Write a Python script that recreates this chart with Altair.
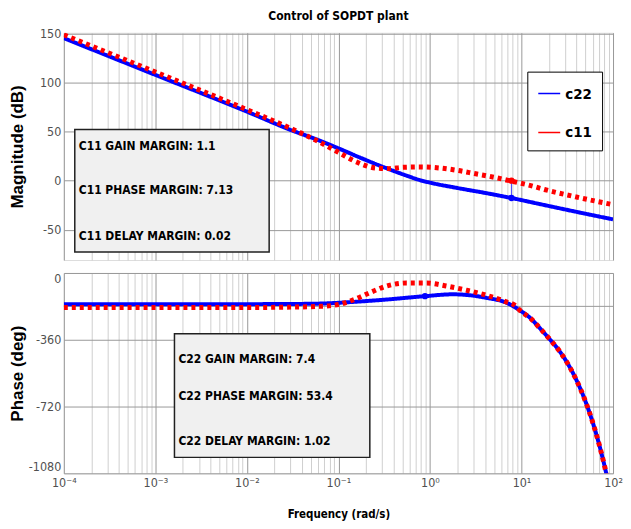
import altair as alt
import pandas as pd

# ---------------- data ----------------
series_names = ["c22", "c11"]
series_colors = ["#0000ff", "#ff0000"]

# Magnitude (dB)
mag_c22_w = [0.0001, 0.001, 0.01, 0.0316, 0.0562, 0.1, 0.178, 0.316, 0.562, 0.78, 1.0, 2.0, 4.0, 7.76, 17.0, 45.7, 100]
mag_c22_db = [145.5, 108, 70.5, 51, 42.5, 33, 23, 13.6, 5, 0.5, -2, -7.5, -12.5, -17.7, -24.5, -33, -39.5]

mag_c11_w = [0.0001, 0.001, 0.01, 0.0316, 0.0562, 0.1, 0.158, 0.251, 0.355, 0.501, 0.794, 1.26, 2.0, 3.16, 5.01, 7.76, 12.6, 17.8, 39.8, 100]
mag_c11_db = [149, 111, 72.5, 52.5, 41.5, 29, 19, 13, 12.3, 13.6, 14, 13, 10.5, 7, 3.5, -0.5, -5, -9, -16.7, -24.5]

# Phase (deg)
ph_c22_w = [0.0001, 0.01, 0.0316, 0.0637, 0.1455, 0.339, 0.883, 1.78, 2.72, 4.13, 6.81, 9.51, 12.6, 15.7,
            20.0, 25.9, 33.1, 39.8, 50.5, 59.6, 70.5, 79.8, 85.1]
ph_c22_deg = [-168, -168, -167, -165, -156, -143, -125, -115, -120, -134, -160, -200, -245, -295,
              -353, -420, -501, -577, -698, -801, -924, -1029, -1089]

ph_c11_w = [0.0001, 0.01, 0.0316, 0.0631, 0.1, 0.1455, 0.223, 0.339, 0.557, 0.92, 1.51, 2.51, 4.13, 6.81, 8.71,
            9.51, 12.6, 15.7, 20.0, 25.9, 33.1, 39.8, 50.5, 59.6, 70.5, 79.8, 85.1]
ph_c11_deg = [-186, -186, -184, -180, -170, -145, -105, -70, -54, -54, -70, -93, -120, -156, -179,
              -200, -245, -295, -353, -420, -501, -577, -698, -801, -924, -1029, -1089]

# margin markers
mk_mag_w = [7.76, 7.76]
mk_mag_db = [-17.7, 0]
mk_mag_series = ["c22", "c11"]
mk_ph_w = [0.883]
mk_ph_deg = [-125]
mk_ph_series = ["c22"]

# annotation texts
margin_names = ["GAIN MARGIN: ", "PHASE MARGIN:  ", "DELAY MARGIN:  "]
c11_values = ["1.1", "7.13", "0.02"]
c22_values = ["7.4", "53.4", "1.02"]

# axes
major_w = [0.0001, 0.001, 0.01, 0.1, 1, 10, 100]
major_labels = ["10⁻⁴", "10⁻³", "10⁻²", "10⁻¹", "10⁰", "10¹", "10²"]
minor_mult = [2, 3, 4, 5, 6, 7, 8, 9]
mag_ticks = [-50, 0, 50, 100, 150]
ph_ticks = [-1080, -720, -360, 0]

# ---------------- styling ----------------
FN = "DejaVu Sans Condensed, Liberation Sans Narrow, sans-serif"
FW = "Liberation Sans, Arial, sans-serif"
W = 551
H1 = 228
H2 = 201

minor_w = [d * m for d in major_w[:-1] for m in minor_mult]
grid_vals = major_w + minor_w
major_js = "[" + ",".join(repr(float(v)) for v in major_w) + "]"
grid_color = {"condition": {"test": f"indexof({major_js}, datum.value) >= 0", "value": "#999999"},
              "value": "#cfcfcf"}
label_expr = "".join(f"datum.value == {float(v)!r} ? '{l}' : " for v, l in zip(major_w, major_labels)) + "''"

xscale = alt.Scale(type="log", domain=[major_w[0], major_w[-1]], nice=False)

df_mag = pd.concat([
    pd.DataFrame({"w": mag_c22_w, "v": mag_c22_db, "series": "c22"}),
    pd.DataFrame({"w": mag_c11_w, "v": mag_c11_db, "series": "c11"}),
], ignore_index=True)
df_ph = pd.concat([
    pd.DataFrame({"w": ph_c22_w, "v": ph_c22_deg, "series": "c22"}),
    pd.DataFrame({"w": ph_c11_w, "v": ph_c11_deg, "series": "c11"}),
], ignore_index=True)

color_scale = alt.Scale(domain=series_names, range=series_colors)
dash_scale = alt.Scale(domain=series_names, range=[[1, 0], [4, 4]])
width_scale = alt.Scale(domain=series_names, range=[4, 5])


def y_axis(title, vals, flush):
    return alt.Axis(values=vals, labelExpr="'' + datum.value", ticks=False, domain=False, grid=True,
                    gridColor="#999999", gridWidth=1, labelFont=FN, labelFontSize=12.5, labelColor="#505050",
                    labelPadding=3, minExtent=32, maxExtent=32, labelFlush=flush,
                    title=title, titleFont=FW, titleFontSize=17, titleFontWeight="bold",
                    titleColor="black", titlePadding=5)


def x_axis(bottom):
    if bottom:
        return alt.Axis(values=grid_vals, labelExpr=label_expr, ticks=False, domain=False, grid=True,
                        gridColor=grid_color, gridWidth=1, labelFont=FN, labelFontSize=12.5,
                        labelColor="#505050", labelPadding=3, labelFlush=False, labelOverlap=False,
                        title="Frequency  (rad/s)", titleFont=FN, titleFontSize=11.5, titleFontWeight="bold",
                        titleColor="black", titlePadding=20)
    return alt.Axis(values=grid_vals, labels=False, ticks=False, domain=False, grid=True,
                    gridColor=grid_color, gridWidth=1, title=None)


def panel(df, domain, ytitle, yvals, bottom, legend, flush):
    yscale = alt.Scale(domain=domain, nice=False, zero=False)
    lines = alt.Chart(df).mark_line(clip=True, interpolate="monotone").encode(
        x=alt.X("w:Q", scale=xscale, axis=x_axis(bottom)),
        y=alt.Y("v:Q", scale=yscale, axis=y_axis(ytitle, yvals, flush)),
        color=alt.Color("series:N", scale=color_scale, legend=legend),
        strokeDash=alt.StrokeDash("series:N", scale=dash_scale, legend=None),
        strokeWidth=alt.StrokeWidth("series:N", scale=width_scale, legend=None),
    )
    return lines, yscale


legend = alt.Legend(orient="none", legendX=465, legendY=39, title=None, fillColor="white",
                    strokeColor="black", padding=10, symbolType="stroke", symbolSize=484,
                    symbolStrokeWidth=1.5, symbolDash=[1, 0], labelFont=FN, labelFontSize=15,
                    labelFontWeight="bold", labelColor="black", rowPadding=19, labelOffset=4,
                    cornerRadius=0)

one = pd.DataFrame({"k": [0]})


def text_box(x1, x2, y1, y2, ys, prefix, values):
    layers = [alt.Chart(one).mark_rect(fill="#f0f0f0", stroke="#202020", strokeWidth=1.5).encode(
        x=alt.value(x1), x2=alt.value(x2), y=alt.value(y1), y2=alt.value(y2))]
    for yy, name, val in zip(ys, margin_names, values):
        layers.append(alt.Chart(one).mark_text(align="left", baseline="middle", font=FN, fontSize=12,
                                               fontWeight="bold", color="black").encode(
            x=alt.value(x1 + 4), y=alt.value(yy), text=alt.value(f"{prefix} {name}{val}")))
    return layers


# ---- top panel
mag_lines, mag_y = panel(df_mag, [-81, 151], "Magnitude (dB)", mag_ticks, False, legend, False)
df_mkm = pd.DataFrame({"w": mk_mag_w, "v": mk_mag_db, "series": mk_mag_series})
gm_rule = alt.Chart(pd.DataFrame({"w": [mk_mag_w[0]], "v": [mk_mag_db[0]], "v2": [mk_mag_db[1]]})).mark_rule(
    color="#4040ff", strokeWidth=1).encode(x=alt.X("w:Q", scale=xscale), y=alt.Y("v:Q", scale=mag_y), y2="v2:Q")
mag_marks = alt.Chart(df_mkm).mark_point(filled=True, size=40, opacity=1).encode(
    x=alt.X("w:Q", scale=xscale), y=alt.Y("v:Q", scale=mag_y),
    color=alt.Color("series:N", scale=color_scale, legend=None))
top = alt.layer(*text_box(11, 206, 97, 220, [114, 158, 204], "C11", c11_values),
                mag_lines, gm_rule, mag_marks).properties(
    width=W, height=H1,
    title=alt.Title("Control of SOPDT plant", font=FN, fontSize=12, fontWeight="bold", color="black",
                    frame="group", anchor="middle", offset=5))

# ---- bottom panel
ph_lines, ph_y = panel(df_ph, [-1080, 0], "Phase (deg)", ph_ticks, True, None, True)
ref180 = alt.Chart(one).mark_rule(color="#999999", strokeWidth=1).encode(y=alt.datum(-180, scale=ph_y))
df_mkp = pd.DataFrame({"w": mk_ph_w, "v": mk_ph_deg, "series": mk_ph_series})
ph_marks = alt.Chart(df_mkp).mark_point(filled=True, size=40, opacity=1).encode(
    x=alt.X("w:Q", scale=xscale), y=alt.Y("v:Q", scale=ph_y),
    color=alt.Color("series:N", scale=color_scale, legend=None))
bottom = alt.layer(ref180, *text_box(111, 307, 61, 185, [86, 123, 169], "C22", c22_values),
                   ph_lines, ph_marks).properties(width=W, height=H2)

chart = alt.vconcat(top, bottom, spacing=11).resolve_legend(color="independent").properties(
    padding={"left": 0, "top": 0, "right": 0, "bottom": 0}
).configure_view(stroke="#7a7a7a", strokeWidth=1.5).configure(background="white")

chart.save("out.html", embed_options={"renderer": "svg", "actions": False})
